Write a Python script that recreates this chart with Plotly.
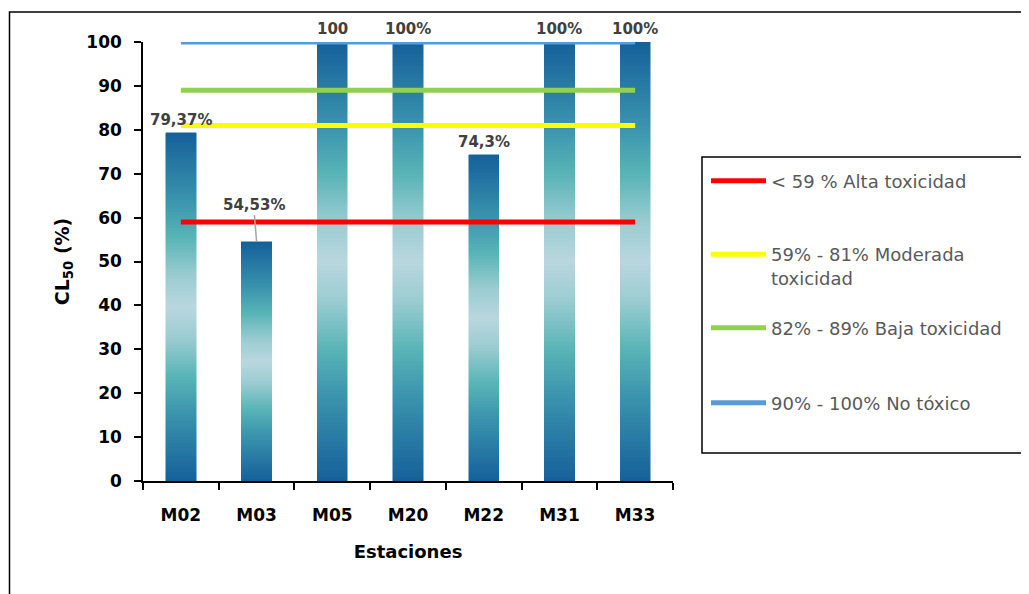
import plotly.graph_objects as go

estaciones = ["M02", "M03", "M05", "M20", "M22", "M31", "M33"]
cl50 = [79.37, 54.53, 100, 100, 74.3, 100, 100]
etiquetas = ["79,37%", "54,53%", "100", "100%", "74,3%", "100%", "100%"]

umbrales = [59, 81, 89, 100]
nombres_umbral = ["&lt; 59 % Alta toxicidad", "59% - 81% Moderada<br>toxicidad",
                  "82% - 89% Baja toxicidad", "90% - 100% No tóxico"]
colores_umbral = ["#FF0000", "#FFFF00", "#92D050", "#5B9BD5"]

# gradient stops: distance from bar centre (0) to edges (1)
grad_stops = [(0.0, (0xBA, 0xD7, 0xDF)), (0.18, (0x9A, 0xCC, 0xD1)), (0.4, (0x58, 0xB4, 0xB6)),
              (0.62, (0x3A, 0x93, 0xAD)), (1.0, (0x15, 0x60, 0x9A))]


def grad_color(t):
    d = min(1.0, abs(t - 0.5) * 2)
    for (a, ca), (b, cb) in zip(grad_stops[:-1], grad_stops[1:]):
        if a <= d <= b:
            f = (d - a) / (b - a)
            c = [round(ca[k] + (cb[k] - ca[k]) * f) for k in range(3)]
            return "rgb(%d,%d,%d)" % tuple(c)
    return "rgb(21,96,154)"


N = 110
fig = go.Figure()
for i in range(N):
    col = grad_color((i + 0.5) / N)
    fig.add_trace(go.Bar(x=estaciones, y=[v / N for v in cl50],
                         marker=dict(color=col, line=dict(color=col, width=0.5)),
                         showlegend=False, hoverinfo="skip"))

legend_ids = ["legend", "legend2", "legend3", "legend4"]
for u, nm, c, lg in zip(umbrales, nombres_umbral, colores_umbral, legend_ids):
    fig.add_trace(go.Scatter(x=estaciones, y=[u] * len(estaciones), mode="lines",
                             line=dict(color=c, width=5), name=nm, legend=lg,
                             cliponaxis=False, hoverinfo="skip"))

annots = []
lab_font = dict(family="DejaVu Sans", size=15, color="#404040", weight="bold")
for est, v, lab in zip(estaciones, cl50, etiquetas):
    if est == "M03":
        annots.append(dict(x=est, y=v, text=lab, showarrow=True, arrowhead=0, arrowwidth=1.5,
                           arrowcolor="#A6A6A6", ax=-3, ay=-37, font=lab_font))
    else:
        annots.append(dict(x=est, y=v, text=lab, showarrow=False, yanchor="bottom",
                           yshift=2, font=lab_font))

# page offset of the plot div (browser body margin)
OFF = 8
W, H = 1029 - OFF, 594 - OFF
L, T = 143 - OFF, 42 - OFF
R = W - (673 - OFF)
B = H - (481 - OFF)
pw, ph = W - L - R, H - T - B


def px2x(px):
    return (px - OFF - L) / pw


def px2y(py):
    return (H - B - (py - OFF)) / ph


legend_centres = [181, 266, 328, 403]
leg_common = dict(bgcolor="rgba(0,0,0,0)", borderwidth=0, itemwidth=55, valign="top",
                  font=dict(family="DejaVu Sans", size=18, color="#595959"),
                  xanchor="left", yanchor="middle", x=px2x(706))
layout_legends = {}
for lg, cy in zip(legend_ids, legend_centres):
    layout_legends[lg] = dict(leg_common, y=px2y(cy))

shapes = [
    dict(type="rect", xref="paper", yref="paper", x0=px2x(702), x1=px2x(1025),
         y0=px2y(453), y1=px2y(157), line=dict(color="black", width=1.5)),
    dict(type="rect", xref="paper", yref="paper", x0=px2x(9.5), x1=px2x(1040),
         y0=px2y(610), y1=px2y(12), line=dict(color="black", width=1.5)),
]

axis_font = dict(family="DejaVu Sans", size=17, color="black", weight="bold")
fig.update_layout(
    template="none",
    width=W, height=H,
    margin=dict(l=L, r=R, t=T, b=B, pad=0),
    barmode="stack", bargap=0.6,
    paper_bgcolor="white", plot_bgcolor="white",
    font=dict(family="DejaVu Sans"),
    annotations=annots,
    shapes=shapes,
    xaxis=dict(type="category", showline=True, linecolor="black", linewidth=1.5,
               ticks="outside", ticklen=7, tickwidth=1.5, tickcolor="black",
               tickson="boundaries", showgrid=False, zeroline=False, automargin=False,
               tickfont=axis_font, ticklabelstandoff=18,
               title=dict(text="Estaciones", font=dict(family="DejaVu Sans", size=18,
                                                        color="black", weight="bold"),
                          standoff=21)),
    yaxis=dict(range=[0, 100], dtick=10, showline=True, linecolor="black", linewidth=1.5,
               ticks="outside", ticklen=7, tickwidth=1.5, tickcolor="black",
               showgrid=False, zeroline=False, automargin=False, tickfont=axis_font,
               ticklabelstandoff=9,
               title=dict(text="CL<sub>50</sub> (%)", font=dict(family="DejaVu Sans", size=19,
                                                                  color="black", weight="bold"),
                          standoff=12)),
    **layout_legends,
)

fig.write_html("out.html")
